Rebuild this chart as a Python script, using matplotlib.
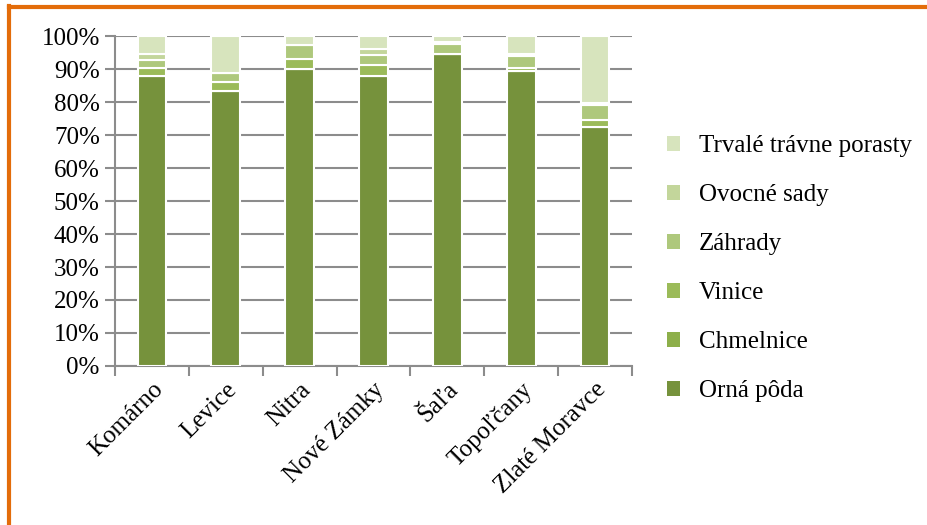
import matplotlib.pyplot as plt
from matplotlib.patches import Patch
from matplotlib.lines import Line2D
import numpy as np

# districts and land-use shares (%)
districts = ["Komárno", "Levice", "Nitra", "Nové Zámky", "Šaľa", "Topoľčany", "Zlaté Moravce"]
orna      = [87.8, 83.5, 90.0, 88.0, 94.5, 89.4, 72.4]
chmelnice = [0.0, 0.0, 0.0, 0.0, 0.0, 0.0, 0.0]
vinice    = [2.6, 2.6, 3.0, 3.3, 0.0, 1.0, 2.1]
zahrady   = [2.5, 2.7, 4.3, 3.0, 3.0, 3.6, 4.7]
ovocne    = [1.8, 0.0, 0.0, 1.9, 0.8, 0.6, 0.5]
trvale    = [5.3, 11.2, 2.7, 3.8, 1.7, 5.4, 20.3]

series = ["Orná pôda", "Chmelnice", "Vinice", "Záhrady", "Ovocné sady", "Trvalé trávne porasty"]
values = [orna, chmelnice, vinice, zahrady, ovocne, trvale]
colors = ["#76923C", "#8DAF4A", "#9BBB59", "#AEC87C", "#C3D69B", "#D7E4BD"]

plt.rcParams["font.family"] = ["Liberation Serif", "DejaVu Serif"]
FS = 18

fig = plt.figure(figsize=(9.28, 5.25), dpi=100)
ax = fig.add_axes([0.124, 0.303, 0.557, 0.628])

x = np.arange(len(districts))
bottom = np.zeros(len(districts))
for name, vals, col in zip(series, values, colors):
    v = np.array(vals) / 100.0
    ax.bar(x, v, bottom=bottom, width=0.39, color=col, edgecolor="white",
           linewidth=1.5, zorder=3, label=name)
    bottom += v

ax.set_xlim(-0.5, len(districts) - 0.5)
ax.set_ylim(0, 1)
ax.set_yticks(np.arange(0, 1.01, 0.1))
ax.set_yticklabels([f"{int(round(t * 100))}%" for t in np.arange(0, 1.01, 0.1)], fontsize=FS)
ax.yaxis.grid(True, color="#8C8C8C", linewidth=1.5, zorder=0)
ax.tick_params(axis="y", length=7, width=1.5, color="#8C8C8C", pad=4)

# x ticks at category boundaries, labels at centres
ax.set_xticks(np.arange(-0.5, len(districts) + 0.5, 1))
ax.set_xticklabels([])
ax.set_xticks(x, minor=True)
ax.set_xticklabels(districts, minor=True, rotation=45, ha="right", va="top",
                   rotation_mode="anchor", fontsize=FS)
ax.tick_params(axis="x", which="major", length=7, width=1.5, color="#8C8C8C")
ax.tick_params(axis="x", which="minor", length=0, pad=9)

for s in ["top", "right"]:
    ax.spines[s].set_visible(False)
for s in ["left", "bottom"]:
    ax.spines[s].set_color("#8C8C8C")
    ax.spines[s].set_linewidth(1.5)

handles = [Patch(facecolor=c, edgecolor="none") for c in colors][::-1]
labels = series[::-1]
fig.legend(handles, labels, loc="upper left", bbox_to_anchor=(0.695, 0.785),
           frameon=False, fontsize=FS, handlelength=0.5, handleheight=0.5,
           handletextpad=0.75, labelspacing=1.08)

# orange frame on left and top
fig.add_artist(Line2D([0.0097, 0.0097], [0, 0.988], color="#E36C0A", linewidth=3,
                      transform=fig.transFigure))
fig.add_artist(Line2D([0.0097, 1.0], [0.986, 0.986], color="#E36C0A", linewidth=3,
                      transform=fig.transFigure))

fig.savefig("out.png", dpi=100)
